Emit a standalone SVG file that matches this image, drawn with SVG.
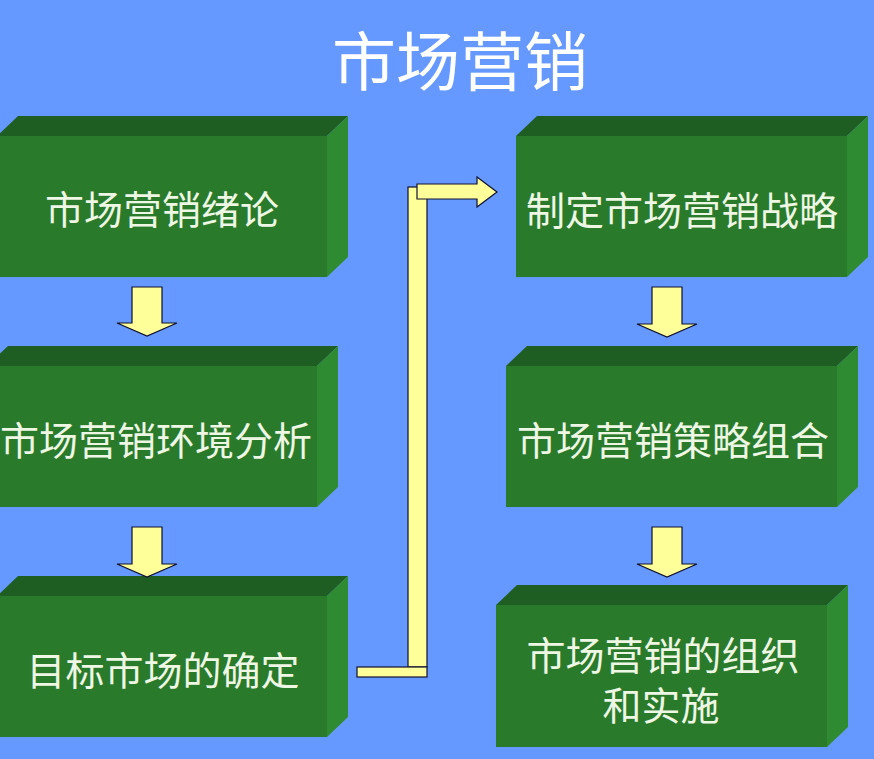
<svg xmlns="http://www.w3.org/2000/svg" width="874" height="759" viewBox="0 0 874 759">
<style>
.front{fill:#2a7a2c}
.top{fill:#1f5e22}
.side{fill:#2f8b31}
.lbl{font-family:"Noto Sans CJK SC","Noto Sans",sans-serif;font-size:39px;fill:#eef6e4;text-anchor:middle}
.title{font-family:"Noto Sans CJK SC","Noto Sans",sans-serif;font-size:64px;fill:#ffffff;text-anchor:middle}
.arr{fill:#ffff99;stroke:#101030;stroke-width:1.2;stroke-linejoin:miter}
</style>
<rect x="0" y="0" width="874" height="759" fill="#6699ff"/>
<text class="title" x="460" y="85">市场营销</text>

<g id="n1">
<polygon class="top" points="-3,136 18,116 348,116 327,136"/>
<polygon class="side" points="327,136 348,116 348,257 327,277"/>
<rect class="front" x="-3" y="136" width="330" height="141"/>
<text class="lbl" x="162" y="224">市场营销绪论</text>
</g>
<g id="n2">
<polygon class="top" points="-13,366 8,346 338,346 317,366"/>
<polygon class="side" points="317,366 338,346 338,487 317,507"/>
<rect class="front" x="-13" y="366" width="330" height="141"/>
<text class="lbl" x="156" y="455">市场营销环境分析</text>
</g>
<g id="n3">
<polygon class="top" points="-3,596 18,576 348,576 327,596"/>
<polygon class="side" points="327,596 348,576 348,717 327,737"/>
<rect class="front" x="-3" y="596" width="330" height="141"/>
<text class="lbl" x="163" y="685">目标市场的确定</text>
</g>
<g id="n4">
<polygon class="top" points="516,136 537,116 868,116 847,136"/>
<polygon class="side" points="847,136 868,116 868,257 847,277"/>
<rect class="front" x="516" y="136" width="331" height="141"/>
<text class="lbl" x="682" y="225">制定市场营销战略</text>
</g>
<g id="n5">
<polygon class="top" points="506,366 527,346 858,346 837,366"/>
<polygon class="side" points="837,366 858,346 858,487 837,507"/>
<rect class="front" x="506" y="366" width="331" height="141"/>
<text class="lbl" x="673" y="455">市场营销策略组合</text>
</g>
<g id="n6">
<polygon class="top" points="496,605 517,585 848,585 827,605"/>
<polygon class="side" points="827,605 848,585 848,727 827,747"/>
<rect class="front" x="496" y="605" width="331" height="142"/>
<text class="lbl"><tspan x="663" y="670">市场营销的组织</tspan><tspan x="661" y="720">和实施</tspan></text>
</g>

<g id="connectors">
<polygon class="arr" points="132,287 162,287 162,323 177,323 147,336 117,323 132,323"/>
<polygon class="arr" points="132,527 162,527 162,564 177,564 147,577 117,564 132,564"/>
<polygon class="arr" points="652,287 682,287 682,324 697,324 667,337 637,324 652,324"/>
<polygon class="arr" points="652,527 682,527 682,564 697,564 667,577 637,564 652,564"/>
<rect class="arr" x="408" y="187" width="19" height="480"/>
<rect class="arr" x="357" y="667" width="70" height="10"/>
<polygon class="arr" points="417,184 477,184 477,177 497,192 477,207 477,199 417,199"/>
</g>
</svg>
